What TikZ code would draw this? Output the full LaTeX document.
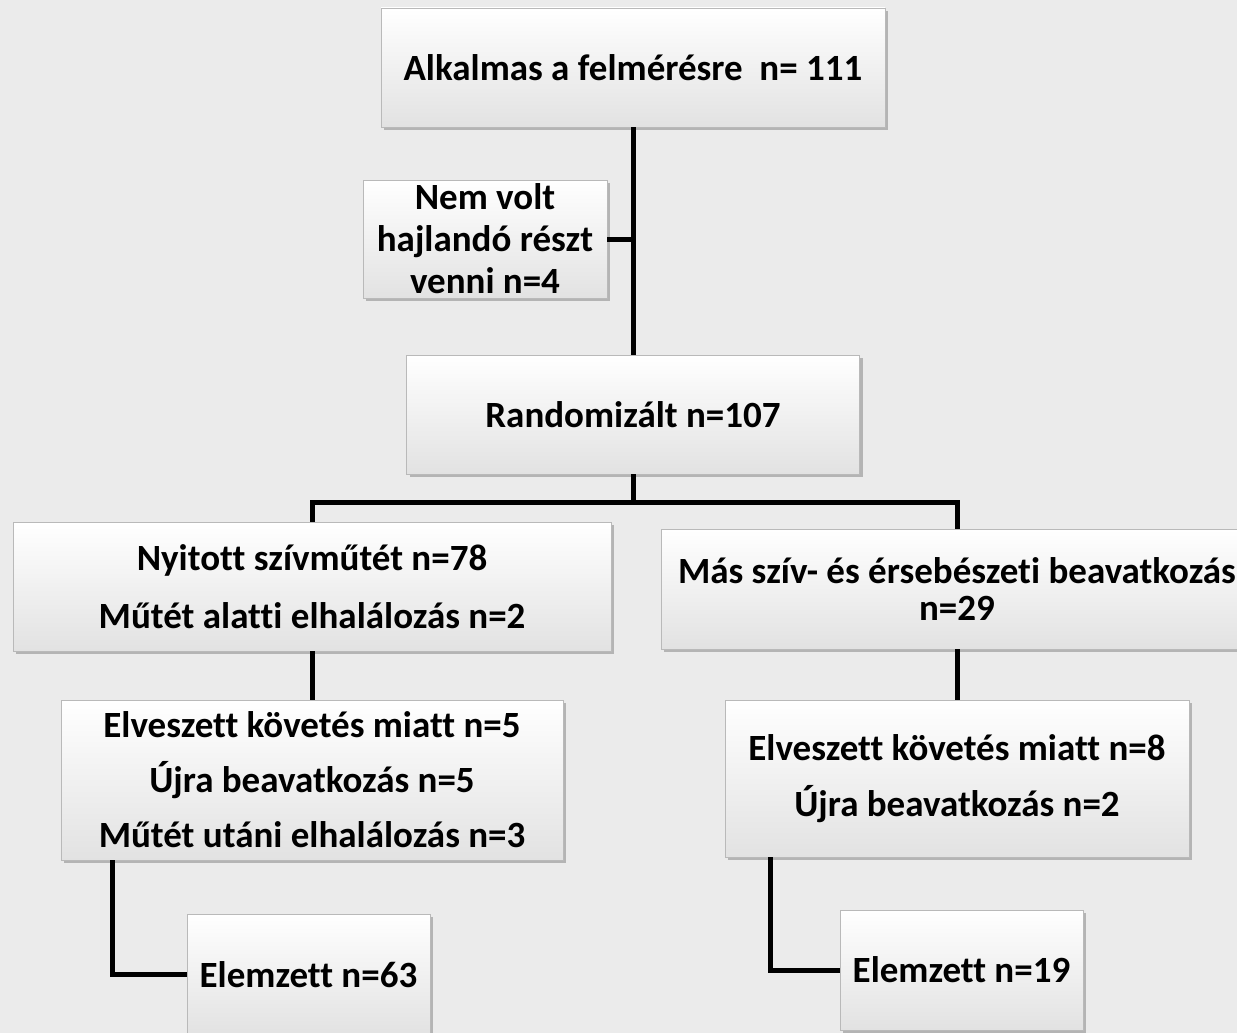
\documentclass[tikz,border=0pt]{standalone}
\usepackage{fontspec}
\setmainfont{Carlito}[Ligatures={NoCommon}]
\usetikzlibrary{shadows}
\definecolor{bgc}{RGB}{235,235,235}
\definecolor{boxbot}{RGB}{226,226,226}
\begin{document}
\begin{tikzpicture}[x=1pt,y=-1pt,
  box/.style={draw=gray!55, line width=0.8pt, top color=white, bottom color=boxbot,
    drop shadow={shadow xshift=3pt, shadow yshift=-3pt, opacity=0.45, fill=black!55},
    align=center, inner sep=0pt, text=black,
    font=\bfseries\fontsize{37}{44}\selectfont},
  conn/.style={line width=5pt, draw=black, line join=miter}]
\fill[bgc] (0,0) rectangle (1237,1033);
\useasboundingbox (0,0) rectangle (1237,1033);
\clip (0,0) rectangle (1237,1033);

\node[box, minimum width=504pt, minimum height=119pt] (top) at (633,67.5) {Alkalmas a felmérésre\ \ n= 111};
\node[box, minimum width=244pt, minimum height=118pt, font=\bfseries\fontsize{37}{42}\selectfont] (nem) at (485,239) {Nem volt\\hajlandó részt\\venni n=4};
\node[box, minimum width=453pt, minimum height=119pt] (rand) at (633,414.5) {Randomizált n=107};
\node[box, minimum width=598pt, minimum height=129pt] (L1) at (312,586.5) {Nyitott szívműtét n=78\\[14pt]Műtét alatti elhalálozás n=2};
\node[box, minimum width=592pt, minimum height=120pt, font=\bfseries\fontsize{37}{37}\selectfont] (R1) at (957,589) {Más szív- és érsebészeti beavatkozás\\n=29};
\node[box, minimum width=502pt, minimum height=160pt] (L2) at (312,780) {Elveszett követés miatt n=5\\[11pt]Újra beavatkozás n=5\\[11pt]Műtét utáni elhalálozás n=3};
\node[box, minimum width=464pt, minimum height=157pt] (R2) at (957,778.5) {Elveszett követés miatt n=8\\[12pt]Újra beavatkozás n=2};
\node[box, minimum width=243pt, minimum height=121pt] (L3) at (308.5,974.5) {Elemzett n=63};
\node[box, minimum width=243pt, minimum height=120pt] (R3) at (961.5,970) {Elemzett n=19};

\coordinate (by) at (0,502);
\coordinate (lc) at (112,0);
\coordinate (rc) at (770,0);

\draw[conn] (top.south) -- (rand.north);
\draw[conn] (nem.east) -- (nem.east -| top.south);
\draw[conn] (rand.south) -- (rand.south |- by);
\draw[conn] (L1.north) -- (L1.north |- by) -- (R1.north |- by) -- (R1.north);
\draw[conn] (L1.south) -- (L2.north);
\draw[conn] (R1.south) -- (R2.north);
\draw[conn] (lc |- L2.south) |- (L3.west);
\draw[conn] (rc |- R2.south) |- (R3.west);
\end{tikzpicture}
\end{document}
